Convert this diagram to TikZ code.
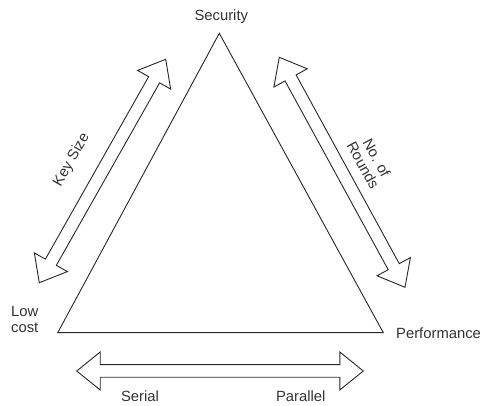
\documentclass[tikz,border=0pt]{standalone}
\usepackage{fontspec}
\setmainfont{Liberation Sans}
\usetikzlibrary{calc}
\begin{document}
\begin{tikzpicture}[x=1pt,y=-1pt,
  outline/.style={draw=black!85,line width=0.9pt,line join=miter},
  label/.style={text=black!80,font=\fontsize{14.8}{15.5}\selectfont,inner sep=0pt},
]
\useasboundingbox (0,0) rectangle (480,406);

% triangle corners
\coordinate (top) at (219.3,33.3);
\coordinate (left) at (57.7,332.7);
\coordinate (right) at (383.3,332.7);
\draw[outline] (top) -- (left) -- (right) -- cycle;

% double-headed block arrow between two tips
% #1,#2 tips; shaft half width 6.3, head half width 19, head length 23.5
\newcommand{\blockarrow}[2]{%
  \draw[outline]
    (#1)
    -- ($($(#1)!23.5pt!(#2)$)!19pt!90:(#2)$)
    -- ($($(#1)!23.5pt!(#2)$)!6.3pt!90:(#2)$)
    -- ($($(#2)!23.5pt!(#1)$)!6.3pt!-90:(#1)$)
    -- ($($(#2)!23.5pt!(#1)$)!19pt!-90:(#1)$)
    -- (#2)
    -- ($($(#2)!23.5pt!(#1)$)!19pt!90:(#1)$)
    -- ($($(#2)!23.5pt!(#1)$)!6.3pt!90:(#1)$)
    -- ($($(#1)!23.5pt!(#2)$)!6.3pt!-90:(#2)$)
    -- ($($(#1)!23.5pt!(#2)$)!19pt!-90:(#2)$)
    -- cycle;}

\coordinate (ksA) at (39.3,282.7);
\coordinate (ksB) at (165.7,59.3);
\coordinate (nrA) at (279.3,57.3);
\coordinate (nrB) at (405,287.3);
\coordinate (spA) at (76.7,371);
\coordinate (spB) at (363.3,371);
\blockarrow{ksA}{ksB}
\blockarrow{nrA}{nrB}
\blockarrow{spA}{spB}

% corner labels
\node[label,anchor=base] (security) at (221.3,20.5) {Security};
\node[label,anchor=base west,align=left] (lowcost) at (11,332.3) {Low\\cost};
\node[label,anchor=base west] (performance) at (396,339) {Performance};

% arrow labels
\node[label,rotate=60.5] (keysize) at (71.7,160) {Key Size};
\node[label,rotate=-61.3,align=center] (rounds) at (370,161.7) {No. of\\Rounds};
\node[label,anchor=base] (serial) at (140,402) {Serial};
\node[label,anchor=base] (parallel) at (300.7,402) {Parallel};
\end{tikzpicture}
\end{document}
